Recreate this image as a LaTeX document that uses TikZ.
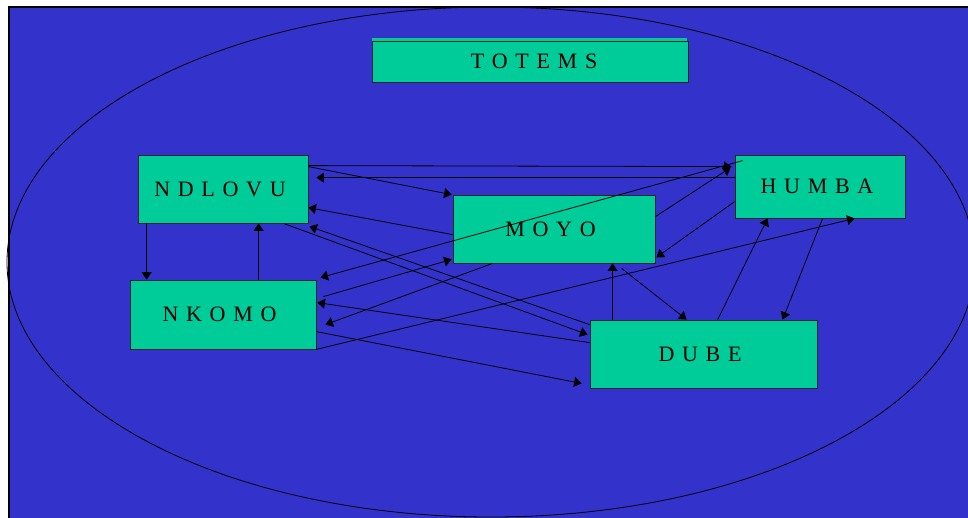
\documentclass[tikz,border=0pt]{standalone}
\usepackage{fontspec}
\setmainfont{Liberation Serif}
\newfontfamily\boxfont[WordSpace=1.4]{Liberation Serif}
\usetikzlibrary{arrows.meta,calc}
\definecolor{slideblue}{HTML}{3333CC}
\definecolor{boxteal}{HTML}{00CC99}
\begin{document}
\begin{tikzpicture}[x=1pt,y=-1pt,
  totembox/.style={rectangle, draw=black!85, fill=boxteal, line width=0.8pt, inner sep=0pt,
    font=\boxfont\fontsize{22}{26}\selectfont, text=black},
  link/.style={draw=black, line width=0.8pt, -{Triangle[length=7.5pt,width=10pt]}}]
\useasboundingbox (0,0) rectangle (968,517);
\clip (0,0) rectangle (968,517);
\fill[white] (0,0) rectangle (968,517);
\draw[black, line width=1.2pt, fill=slideblue] (9,7) rectangle (990,540);
\draw[black, line width=0.8pt] (491,262) ellipse [x radius=484pt, y radius=255pt];
% title
\fill[boxteal] (372,38) rectangle (687,80);
\node[totembox, minimum width=316pt, minimum height=41pt] (totems) at (530,61.5) {\kern8pt T O T E M S};
% boxes
\node[totembox, minimum width=170pt, minimum height=68pt] (ndlovu) at (223,189) {N D L O V U\kern6pt};
\node[totembox, minimum width=202pt, minimum height=68pt] (moyo) at (554,229) {M O Y O\kern7pt};
\node[totembox, minimum width=170pt, minimum height=63pt] (humba) at (820,186.5) {H U M B A\kern6pt};
\node[totembox, minimum width=186pt, minimum height=69pt] (nkomo) at (223,314.5) {N K O M O\kern7pt};
\node[totembox, minimum width=227pt, minimum height=68pt] (dube) at (703.5,354) {D U B E\kern7pt};
% connectors
\draw[link] ($(ndlovu.north east)+(0,11)$) -- ($(humba.north west)+(-3,12)$);
\draw[link] ($(humba.north west)+(0,23)$) -- ($(ndlovu.north east)+(8,23)$);
\draw[link] ($(ndlovu.north east)+(0,12)$) -- ($(moyo.north west)+(-1,0)$);
\draw[link] ($(moyo.north west)+(0,40)$) -- ($(ndlovu.north east)+(0,53)$);
\draw[link] ($(ndlovu.south east)+(-25,0)$) -- ($(dube.north west)+(-2,15)$);
\draw[link] ($(dube.north west)+(0,5)$) -- ($(ndlovu.south east)+(1,3)$);
\draw[link] ($(ndlovu.south west)+(9,0)$) -- ($(nkomo.north west)+(17,0)$);
\draw[link] ($(nkomo.north west)+(129,0)$) -- ($(ndlovu.south west)+(121,0)$);
\draw[link] ($(humba.north west)+(8,6)$) -- ($(nkomo.north east)+(4,-2)$);
\draw[link] ($(nkomo.north east)+(7,17)$) -- ($(moyo.south west)+(-1,-4)$);
\draw[link] ($(moyo.south west)+(40,0)$) -- ($(nkomo.north east)+(9,45)$);
\draw[link] ($(dube.north west)+(0,23)$) -- ($(nkomo.north east)+(1,23)$);
\draw[link] (nkomo.south east) -- ($(humba.south west)+(120,0)$);
\draw[link] ($(nkomo.north east)+(0,52)$) -- ($(dube.south west)+(-8,-5)$);
\draw[link] ($(dube.north west)+(23,0)$) -- ($(moyo.south west)+(160,0)$);
\draw[link] ($(moyo.south west)+(169,5)$) -- ($(dube.north west)+(97,0)$);
\draw[link] ($(dube.north west)+(128,0)$) -- ($(humba.south west)+(33,0)$);
\draw[link] ($(humba.south west)+(88,0)$) -- ($(dube.north west)+(193,0)$);
\draw[link] ($(moyo.north east)+(0,22)$) -- ($(humba.north west)+(-4,13)$);
\draw[link] ($(humba.north west)+(0,47)$) -- ($(moyo.south east)+(1,-6)$);
\end{tikzpicture}
\end{document}
